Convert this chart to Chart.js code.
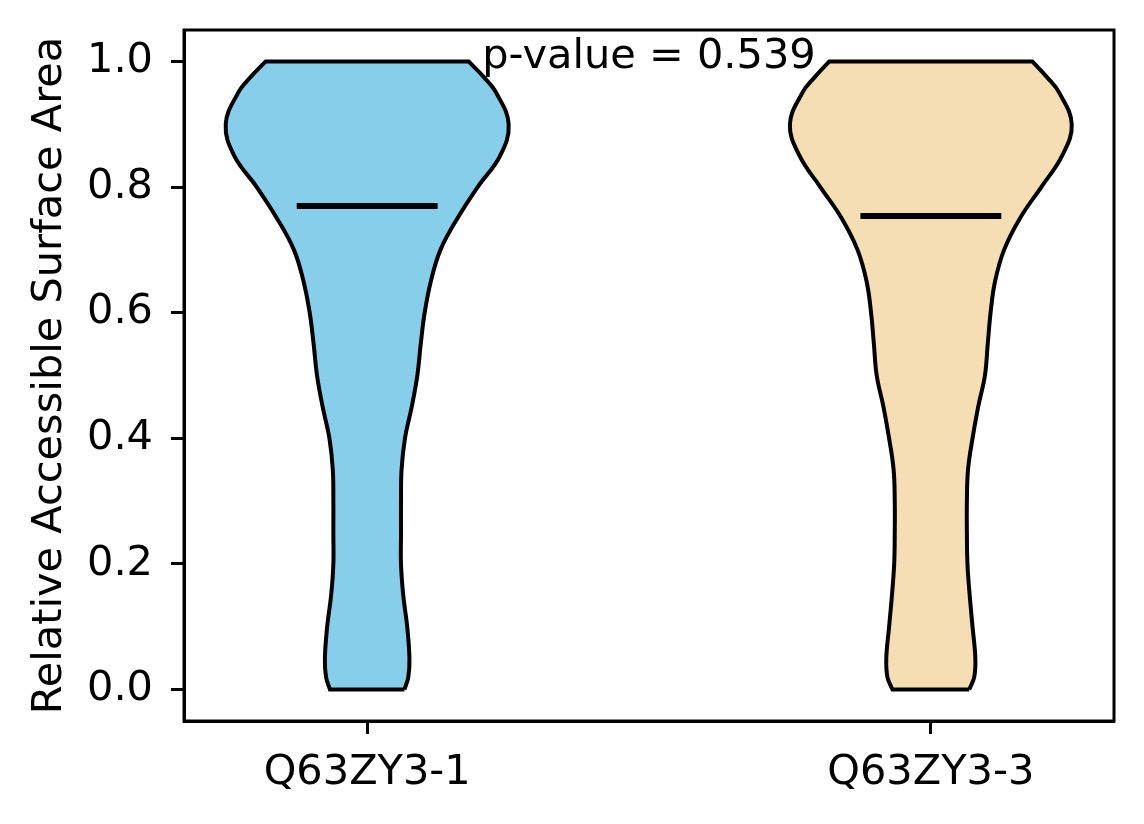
<!DOCTYPE html>
<html>
<head>
<meta charset="utf-8">
<script src="https://cdn.jsdelivr.net/npm/chart.js@4/dist/chart.umd.min.js"></script>
<style>
  body { margin: 0; background: #fff; }
  #wrap { width: 1144px; height: 824px; }
</style>
</head>
<body>
<div id="wrap"><canvas id="violinChart"></canvas></div>
<script>
// categories and where they sit on the x axis
const categories = ['Q63ZY3-1', 'Q63ZY3-3'];
const positions = [1, 2];
const colors = ['#87CEEB', '#F5DEB3'];

// density outline: half-width of each violin at these RSA levels
const levels = [0, 0.02, 0.05, 0.1, 0.15, 0.2, 0.25, 0.3, 0.35, 0.4, 0.45, 0.5,
                0.55, 0.6, 0.65, 0.7, 0.75, 0.8, 0.85, 0.9, 0.95, 0.975, 1.0];
const halfWidths1 = [0.066, 0.073, 0.075, 0.071, 0.064, 0.060, 0.060, 0.060, 0.061, 0.067, 0.079, 0.089,
                     0.095, 0.102, 0.113, 0.130, 0.160, 0.196, 0.236, 0.251, 0.229, 0.207, 0.180];
const halfWidths2 = [0.068, 0.077, 0.079, 0.074, 0.069, 0.065, 0.064, 0.064, 0.066, 0.074, 0.084, 0.096,
                     0.101, 0.106, 0.114, 0.130, 0.158, 0.196, 0.233, 0.250, 0.228, 0.206, 0.180];
const medians = [0.770, 0.754];
const medianHalf = 0.125;

const yTicks = [0, 0.2, 0.4, 0.6, 0.8, 1.0];
const pValue = 0.539;

// closed outline; corner points are doubled so the spline keeps them sharp
function outline(pos, widths) {
  const right = levels.map((y, i) => ({ x: pos + widths[i], y: y }));
  const left = levels.map((y, i) => ({ x: pos - widths[i], y: y })).reverse();
  const n = right.length;
  return [].concat(right, [right[n - 1]], left.slice(0, 1), left, [left[n - 1]], [right[0]]);
}

const allWidths = [halfWidths1, halfWidths2];
const datasets = [];
positions.forEach((p, i) => {
  datasets.push({
    label: categories[i] + ' median',
    data: [{ x: p - medianHalf, y: medians[i] }, { x: p + medianHalf, y: medians[i] }],
    borderColor: '#000',
    borderWidth: 6,
    pointRadius: 0,
    fill: false,
    order: 1
  });
  datasets.push({
    label: categories[i],
    data: outline(p, allWidths[i]),
    borderColor: '#000',
    borderWidth: 4,
    backgroundColor: colors[i],
    pointRadius: 0,
    tension: 0.4,
    fill: 'shape',
    order: 2
  });
});

// frame round the plot + the p-value note
const framePlugin = {
  id: 'frame',
  afterDraw(chart) {
    const { ctx, chartArea: a, scales } = chart;
    ctx.save();
    ctx.strokeStyle = '#000';
    ctx.lineWidth = 3;
    ctx.strokeRect(a.left, a.top, a.right - a.left, a.bottom - a.top);
    ctx.fillStyle = '#000';
    ctx.font = '41.5px "DejaVu Sans"';
    ctx.textAlign = 'center';
    ctx.textBaseline = 'alphabetic';
    ctx.fillText('p-value = ' + pValue, scales.x.getPixelForValue(1.5), scales.y.getPixelForValue(0.99));
    ctx.restore();
  }
};

Chart.defaults.font.family = '"DejaVu Sans"';
Chart.defaults.font.size = 41.5;
Chart.defaults.color = '#000';

new Chart(document.getElementById('violinChart'), {
  type: 'line',
  data: { datasets: datasets },
  options: {
    responsive: true,
    maintainAspectRatio: false,
    animation: false,
    devicePixelRatio: 1,
    layout: { padding: { top: 30, right: 30, left: 0, bottom: 0 } },
    plugins: { legend: { display: false }, tooltip: { enabled: false } },
    scales: {
      x: {
        type: 'linear',
        min: 0.675,
        max: 2.325,
        afterBuildTicks: s => { s.ticks = positions.map(v => ({ value: v })); },
        afterFit: s => { s.height = 103; s.paddingLeft = 0; s.paddingRight = 0; },
        ticks: {
          padding: 14,
          callback: v => categories[positions.indexOf(v)] || ''
        },
        grid: { drawOnChartArea: false, tickLength: 13, tickWidth: 3, tickColor: '#000' },
        border: { color: '#000', width: 3 }
      },
      y: {
        type: 'linear',
        min: -0.05,
        max: 1.05,
        afterBuildTicks: s => { s.ticks = yTicks.map(v => ({ value: v })); },
        afterFit: s => { s.width = 184; s.paddingTop = 0; s.paddingBottom = 0; },
        ticks: {
          padding: 18,
          callback: v => v.toFixed(1)
        },
        grid: { drawOnChartArea: false, tickLength: 13, tickWidth: 3, tickColor: '#000' },
        border: { color: '#000', width: 3 },
        title: {
          display: true,
          text: 'Relative Accessible Surface Area',
          font: { size: 41.5 },
          padding: { top: 25, bottom: 0 }
        }
      }
    }
  },
  plugins: [framePlugin]
});
</script>
</body>
</html>
